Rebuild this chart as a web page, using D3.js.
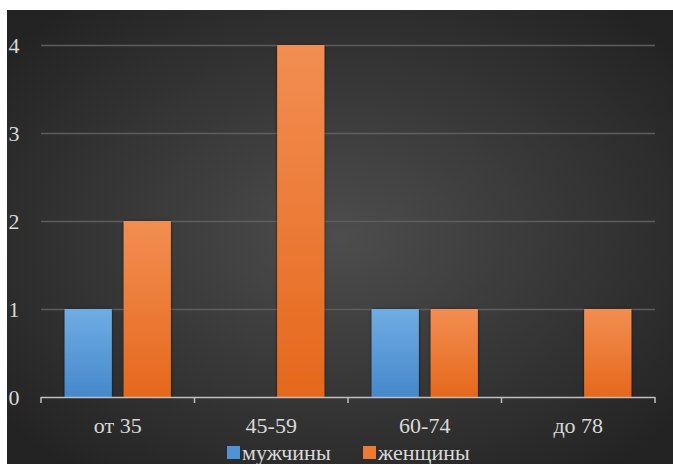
<!DOCTYPE html>
<html><head><meta charset="utf-8">
<script src="https://cdn.jsdelivr.net/npm/d3@7"></script>
<style>html,body{margin:0;padding:0;background:#fff;overflow:hidden}</style>
</head><body>
<script>
const categories = ["от 35", "45-59", "60-74", "до 78"];
const seriesNames = ["мужчины", "женщины"];
const men = [1, 0, 1, 0];
const women = [2, 4, 1, 1];
const yTicks = [0, 1, 2, 3, 4];

(function () {
const W = 673, H = 464;
const FONT = '"Liberation Serif", "Times New Roman", Tinos, Times';
const svg = d3.select("body").append("svg").attr("width", W).attr("height", H);
const defs = svg.append("defs");
const bg = defs.append("radialGradient").attr("id", "bg").attr("cx", "50%").attr("cy", "50%").attr("r", "65%");
bg.append("stop").attr("offset", "0%").attr("stop-color", "#4d4d4d");
bg.append("stop").attr("offset", "100%").attr("stop-color", "#232323");
const gb = defs.append("linearGradient").attr("id", "gBlue").attr("x1", 0).attr("y1", 0).attr("x2", 0).attr("y2", 1);
gb.append("stop").attr("offset", "0%").attr("stop-color", "#6fade3");
gb.append("stop").attr("offset", "100%").attr("stop-color", "#4588cb");
const go = defs.append("linearGradient").attr("id", "gOrange").attr("x1", 0).attr("y1", 0).attr("x2", 0).attr("y2", 1);
go.append("stop").attr("offset", "0%").attr("stop-color", "#f28e52");
go.append("stop").attr("offset", "100%").attr("stop-color", "#e5681c");
const sh = defs.append("filter").attr("id", "sh").attr("x", "-20%").attr("y", "-20%").attr("width", "140%").attr("height", "140%");
sh.append("feGaussianBlur").attr("in", "SourceAlpha").attr("stdDeviation", 1.5).attr("result", "b");
sh.append("feFlood").attr("flood-color", "#000").attr("flood-opacity", 0.6);
sh.append("feComposite").attr("in2", "b").attr("operator", "in").attr("result", "s");
const m = sh.append("feMerge");
m.append("feMergeNode").attr("in", "s");
m.append("feMergeNode").attr("in", "SourceGraphic");

svg.append("rect").attr("x", 7).attr("y", 10).attr("width", W - 7).attr("height", H - 10).attr("fill", "url(#bg)");

const pLeft = 41, pRight = 655, pTop = 45, pBottom = 397;
const x = d3.scaleBand().domain(categories).range([pLeft, pRight]).paddingInner(0).paddingOuter(0);
const y = d3.scaleLinear().domain([0, 4]).range([pBottom, pTop]);
const xs = d3.scaleBand().domain(seriesNames).range([0, x.bandwidth()]).paddingInner(0.2).paddingOuter(0.4);

const txt = "#d9d9d9";
const FS = 22;

svg.append("g").selectAll("line").data(yTicks.filter(d => d > 0)).join("line")
  .attr("x1", pLeft).attr("x2", pRight)
  .attr("y1", d => Math.round(y(d)) + 0.5).attr("y2", d => Math.round(y(d)) + 0.5)
  .attr("stroke", "#5e5e5e").attr("stroke-width", 1.5);

svg.append("g").selectAll("text").data(yTicks).join("text")
  .attr("x", 14).attr("y", d => y(d)).attr("dy", "0.35em")
  .attr("text-anchor", "middle").attr("font-size", FS).attr("font-family", FONT).style("font-family", FONT)
  .attr("fill", txt).text(d => d);

const data = categories.map((c, i) => ({ c, vals: [men[i], women[i]] }));
const grp = svg.append("g").selectAll("g").data(data).join("g")
  .attr("transform", d => `translate(${x(d.c)},0)`);
grp.selectAll("rect").data(d => d.vals.map((v, j) => ({ v, s: seriesNames[j] })).filter(e => e.v > 0))
  .join("rect")
  .attr("x", d => xs(d.s)).attr("width", xs.bandwidth())
  .attr("y", d => y(d.v)).attr("height", d => y(0) - y(d.v))
  .attr("fill", d => d.s === seriesNames[0] ? "url(#gBlue)" : "url(#gOrange)")
  .attr("filter", "url(#sh)");

const xa = svg.append("g").attr("transform", `translate(0,${pBottom})`);
xa.append("line").attr("x1", pLeft).attr("x2", pRight).attr("y1", 0.5).attr("y2", 0.5)
  .attr("stroke", "#bfbfbf").attr("stroke-width", 1.5);
const tickPos = categories.map(c => x(c)).concat([pRight]);
xa.selectAll("line.t").data(tickPos).join("line").attr("class", "t")
  .attr("x1", d => d).attr("x2", d => d).attr("y1", 0).attr("y2", 6)
  .attr("stroke", "#bfbfbf").attr("stroke-width", 1.5);
xa.selectAll("text").data(categories).join("text")
  .attr("x", d => x(d) + x.bandwidth() / 2).attr("y", 36)
  .attr("text-anchor", "middle").attr("font-size", FS).attr("font-family", FONT).style("font-family", FONT)
  .attr("fill", txt).text(d => d);

const colors = ["#4f93d3", "#ed7a32"];
const legX = [227, 363];
const lg = svg.append("g").selectAll("g").data(seriesNames).join("g")
  .attr("transform", (d, i) => `translate(${legX[i]},${446})`);
lg.append("rect").attr("width", 13).attr("height", 13).attr("fill", (d, i) => colors[i]);
lg.append("text").attr("x", 15).attr("y", 14).attr("font-size", FS).attr("font-family", FONT).style("font-family", FONT)
  .attr("fill", txt).text(d => d);
})();
</script>
</body></html>
